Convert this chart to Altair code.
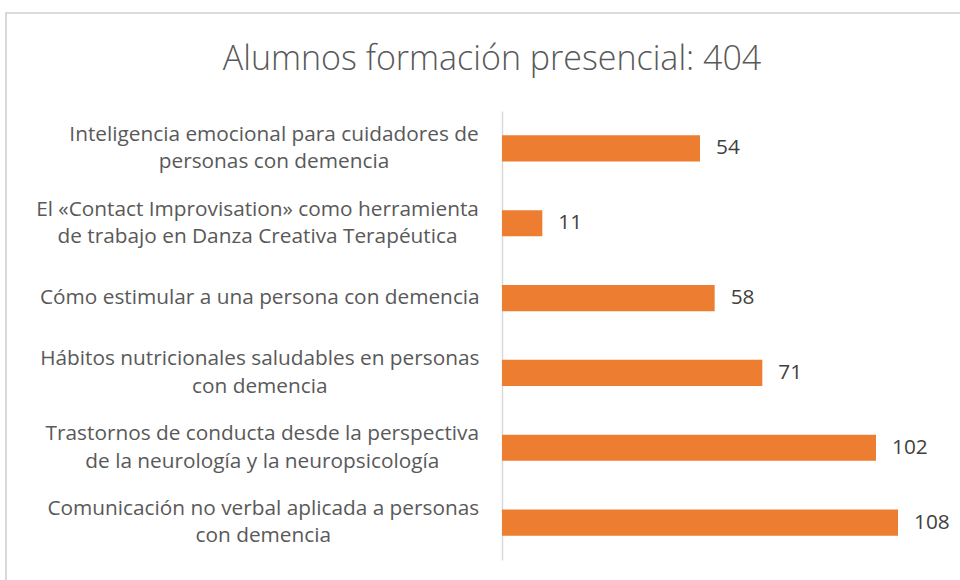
import altair as alt
import pandas as pd

courses = [
    "Inteligencia emocional para cuidadores de\npersonas con demencia",
    "El «Contact Improvisation» como herramienta\nde trabajo en Danza Creativa Terapéutica",
    "Cómo estimular a una persona con demencia",
    "Hábitos nutricionales saludables en personas\ncon demencia",
    "Trastornos de conducta desde la perspectiva\nde la neurología y la neuropsicología",
    "Comunicación no verbal aplicada a personas\ncon demencia",
]
students = [54, 11, 58, 71, 102, 108]

df = pd.DataFrame({"curso": courses, "alumnos": students})

FONT = "Open Sans"
TEXT = "#595959"
LABEL_SIZE = 20.8
LINE_H = 27.5

# horizontal padding so that each centred label block ends right at the axis gap
pad_keys = ["Inteligencia", "El ", "Cómo", "Hábitos", "Trastornos", "Comunicación"]
pad_vals = [228.5, 245, 242.7, 242.7, 240.2, 239.2]
pad_cond = [
    {"test": f"indexof(datum.value, '{k}') == 0", "value": v}
    for k, v in zip(pad_keys, pad_vals)
]

y_enc = alt.Y(
    "curso:N",
    sort=courses,
    title=None,
    scale=alt.Scale(paddingInner=0.65, paddingOuter=0.325),
    axis=alt.Axis(
        labelExpr="split(datum.label, '\\n')",
        labelAlign="center",
        labelPadding={"condition": pad_cond, "value": 240},
        labelOffset={
            "condition": {"test": "indexof(datum.value, '\\n') >= 0", "value": -LINE_H / 2},
            "value": 0,
        },
        labelFont=FONT,
        labelFontSize=LABEL_SIZE,
        labelColor=TEXT,
        labelLineHeight=LINE_H,
        labelLimit=0,
        ticks=False,
        domainColor="#D9D9D9",
        domainWidth=1.5,
        grid=False,
    ),
)
x_enc = alt.X("alumnos:Q", scale=alt.Scale(domain=[0, 120]), axis=None)

bars = alt.Chart(df).mark_bar(color="#ED7D31").encode(x=x_enc, y=y_enc)
labels = alt.Chart(df).mark_text(
    align="left", baseline="middle", dx=16, font=FONT, fontSize=LABEL_SIZE, color="#404040"
).encode(x=x_enc, y=alt.Y("curso:N", sort=courses), text="alumnos:Q")

frame = alt.Chart(df).mark_rect(fill=None, stroke="#D9D9D9", strokeWidth=1.2).encode(
    x=alt.value(-496), x2=alt.value(470), y=alt.value(-98), y2=alt.value(480)
)

chart = (
    alt.layer(frame, bars, labels)
    .properties(
        width=440,
        height=449,
        background="white",
        autosize=alt.AutoSizeParams(type="none"),
        padding={"left": 502, "top": 111, "right": 18, "bottom": 20},
        title=alt.TitleParams(
            "Alumnos formación presencial: 404",
            font=FONT,
            fontSize=34,
            fontWeight=300,
            color=TEXT,
            anchor="middle",
            baseline="alphabetic",
            dx=-230,
            dy=92,
            offset=0,
        ),
    )
    .configure_view(stroke="transparent", strokeWidth=0)
)

chart.save("out.html", embed_options={"renderer": "svg", "actions": False})
